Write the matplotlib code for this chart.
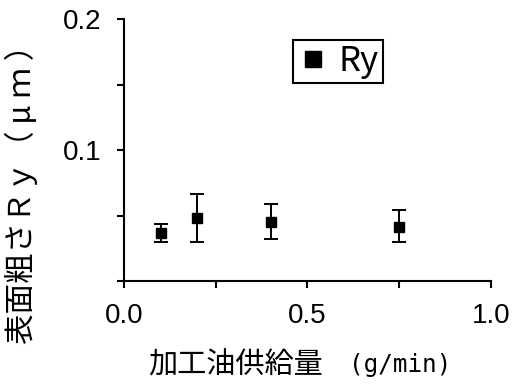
import numpy as np
import matplotlib.pyplot as plt
from matplotlib.lines import Line2D

plt.rcParams['font.family'] = ['Noto Sans CJK JP', 'DejaVu Sans']

# 加工油供給量 (g/min) と 表面粗さ Ry (μm)
supply = [0.1, 0.2, 0.4, 0.75]
ry = [0.0366, 0.0479, 0.0453, 0.0415]
ry_hi = [0.0435, 0.0662, 0.0585, 0.0540]
ry_lo = [0.0296, 0.0296, 0.0323, 0.0296]

xticks = [0, 0.5, 1.0]
xlabels = ['0.0', '0.5', '1.0']
yticks = [0, 0.1, 0.2]
ylabels = ['', '0.1', '0.2']

err = [np.array(ry) - np.array(ry_lo), np.array(ry_hi) - np.array(ry)]

fig = plt.figure(figsize=(5.13, 3.85), dpi=100)
ax = fig.add_axes([0.2417, 0.27, 0.957 - 0.2417, 0.9506 - 0.27])

ax.errorbar(supply, ry, yerr=err, fmt='s', color='black', ms=7.2,
            capsize=4.7, elinewidth=1.4, capthick=1.4)

ax.set_xlim(0, 1.0)
ax.set_ylim(0, 0.2)
ax.set_xticks(xticks)
ax.set_xticks([0.25, 0.75], minor=True)
ax.set_yticks(yticks)
ax.set_yticks([0.05, 0.15], minor=True)
ax.set_xticklabels(xlabels, family='Liberation Sans', fontsize=20)
ax.set_yticklabels(ylabels, family='Liberation Sans', fontsize=20)

for s in ['top', 'right']:
    ax.spines[s].set_visible(False)
for s in ['left', 'bottom']:
    ax.spines[s].set_linewidth(1.5)
ax.tick_params(which='both', direction='out', length=5, width=1.5)
ax.tick_params(axis='x', pad=11)
ax.tick_params(axis='y', pad=11)

# x軸ラベル（和文＋等幅の単位）
fig.text(148 / 513, 1 - 366 / 385, '加工油供給量', fontsize=21, ha='left', va='center')
fig.text(349 / 513, 1 - 365 / 385, '(g/min)', fontsize=17.5, family='DejaVu Sans Mono',
         ha='left', va='center')

# y軸ラベル
fig.text(21 / 513, 1 - 187 / 385, '表面粗さＲｙ（ μ ｍ ）', fontsize=22, rotation=90,
         ha='center', va='center')

handle = Line2D([], [], ls='none', marker='s', color='black', ms=11)
leg = ax.legend([handle], ['Ry'], loc='upper left', bbox_to_anchor=(0.46, 0.92),
                fontsize=25, frameon=True, fancybox=False, framealpha=1,
                handletextpad=0.3, handlelength=0.9, borderpad=0.12, borderaxespad=0)
leg.get_frame().set_edgecolor('black')
leg.get_frame().set_linewidth(1.5)

fig.savefig('out.png', dpi=100)
